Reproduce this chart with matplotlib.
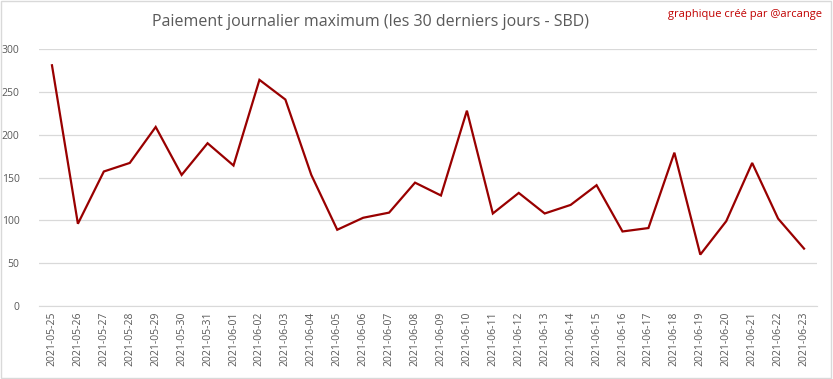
import pandas as pd
import matplotlib.pyplot as plt
from matplotlib.patches import Rectangle

# Daily maximum payout over the last 30 days (SBD)
dates = pd.date_range('2021-05-25', '2021-06-23').strftime('%Y-%m-%d').tolist()
payouts = [281, 96, 157, 167, 209, 153, 190, 164, 264, 241,
           153, 89, 103, 109, 144, 129, 228, 108, 132, 108,
           118, 141, 87, 91, 179, 60, 99, 167, 102, 67]
y_ticks = [0, 50, 100, 150, 200, 250, 300]

plt.rcParams['font.family'] = ['Open Sans', 'DejaVu Sans']

fig = plt.figure(figsize=(8.33, 3.79), dpi=100)
ax = fig.add_axes([39 / 833, 1 - 306 / 379, (817 - 39) / 833, (306 - 49) / 379])

x = range(len(dates))
ax.plot(x, payouts, color='#990000', linewidth=1.6, solid_joinstyle='miter')

ax.set_xlim(-0.5, len(dates) - 0.5)
ax.set_ylim(0, 300)
ax.set_yticks(y_ticks)
ax.set_xticks(list(x))
ax.set_xticklabels(dates, rotation=90, fontsize=7.5, color='#595959')
ax.tick_params(axis='y', labelsize=7.5, labelcolor='#595959', length=0, pad=14)
ax.tick_params(axis='x', length=0, pad=4)
ax.grid(axis='y', color='#D9D9D9', linewidth=0.9)
ax.set_axisbelow(True)
for side in ['top', 'right', 'left']:
    ax.spines[side].set_visible(False)
ax.spines['bottom'].set_color('#D9D9D9')

# Title and credit
fig.text(370 / 833, 1 - 22 / 379, 'Paiement journalier maximum (les 30 derniers jours - SBD)',
         ha='center', va='center', fontsize=11.5, color='#595959')
fig.text(822 / 833, 1 - 15 / 379, 'graphique créé par @arcange',
         ha='right', va='center', fontsize=8, color='#C00000')

# Light frame around the chart
fig.add_artist(Rectangle((0.001, 0.002), 0.997, 0.995, transform=fig.transFigure,
                         fill=False, edgecolor='#D9D9D9', linewidth=1))

plt.savefig('out.png', dpi=100)
